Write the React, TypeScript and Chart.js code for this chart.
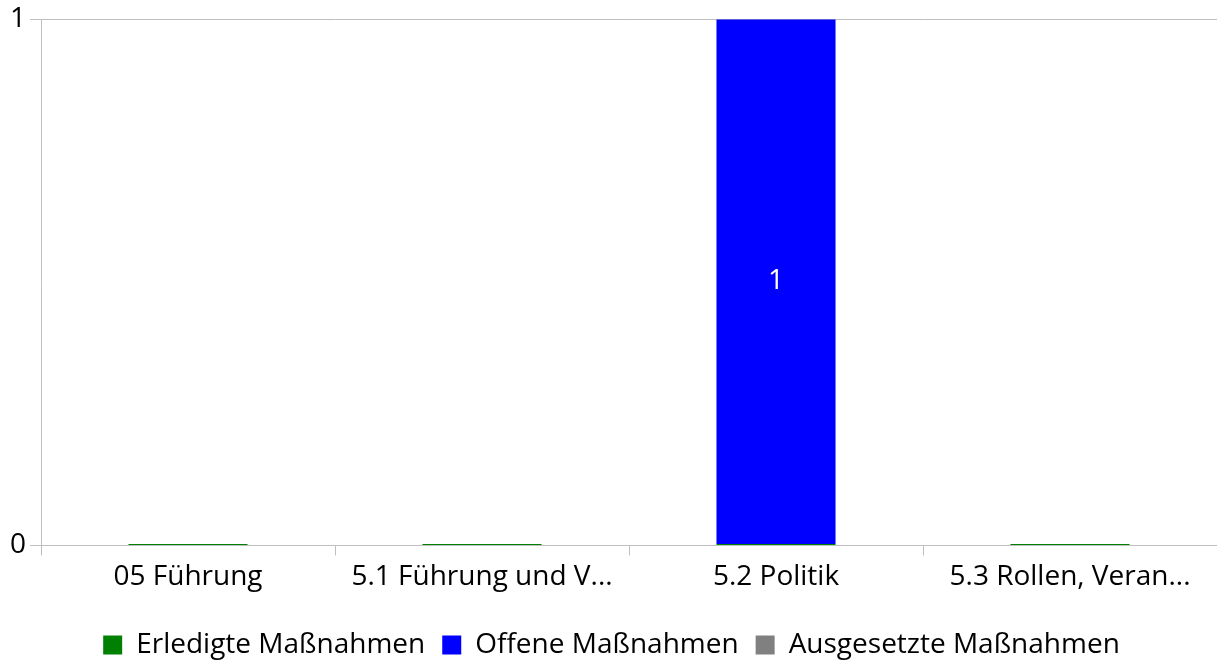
import React, { useEffect, useRef } from "react";
import { Chart, registerables } from "chart.js";

Chart.register(...registerables);

const categories = ["05 Führung", "5.1 Führung und V...", "5.2 Politik", "5.3 Rollen, Veran..."];
const erledigte = [0, 0, 0, 0];
const offene = [0, 0, 1, 0];
const ausgesetzte = [0, 0, 0, 0];
const yTicks = [0, 1];

const FONT = "'Open Sans', 'Noto Sans', sans-serif";
const FS = 28;

const valueLabels = {
  id: "valueLabels",
  afterDatasetsDraw(chart: any) {
    const ctx = chart.ctx;
    chart.data.datasets.forEach((ds: any, i: number) => {
      const meta = chart.getDatasetMeta(i);
      if (meta.hidden) return;
      meta.data.forEach((bar: any, j: number) => {
        const v = ds.data[j];
        if (!v) return;
        const p = bar.getProps(["x", "y", "base"], true);
        ctx.save();
        ctx.fillStyle = "#ffffff";
        ctx.font = `${FS}px ${FONT}`;
        ctx.textAlign = "center";
        ctx.textBaseline = "middle";
        ctx.fillText(String(v), p.x, (p.y + p.base) / 2);
        ctx.restore();
      });
    });
  },
};

export default function App() {
  const ref = useRef<HTMLCanvasElement | null>(null);
  useEffect(() => {
    document.body.style.margin = "0";
    if (!ref.current) return;
    const chart = new Chart(ref.current, {
      type: "bar",
      data: {
        labels: categories,
        datasets: [
          { label: "Erledigte Maßnahmen", data: erledigte, backgroundColor: "#008000", minBarLength: 1.5 },
          { label: "Offene Maßnahmen", data: offene, backgroundColor: "#0000ff" },
          { label: "Ausgesetzte Maßnahmen", data: ausgesetzte, backgroundColor: "#808080" },
        ],
      },
      options: {
        animation: false,
        responsive: false,
        maintainAspectRatio: false,
        layout: { padding: { top: 0, right: 0, left: 6, bottom: -5 } },
        datasets: { bar: { categoryPercentage: 1, barPercentage: 0.405 } },
        plugins: {
          tooltip: { enabled: false },
          legend: {
            position: "bottom",
            labels: {
              color: "#000",
              font: { family: FONT, size: FS },
              boxWidth: 19,
              boxHeight: 19,
              padding: 17,
            },
          },
        },
        scales: {
          x: {
            stacked: true,
            grid: { offset: true, drawOnChartArea: false, color: "#bfbfbf", tickLength: 10 },
            border: { color: "#bfbfbf" },
            ticks: { color: "#000", font: { family: FONT, size: FS }, maxRotation: 0, autoSkip: false, padding: 5 },
            afterFit: (scale: any) => {
              scale.height += 15;
            },
          },
          y: {
            stacked: true,
            min: yTicks[0],
            max: yTicks[yTicks.length - 1],
            grid: { color: "#bfbfbf", tickLength: 11 },
            border: { color: "#bfbfbf" },
            ticks: { stepSize: 1, color: "#000", font: { family: FONT, size: FS, lineHeight: 1.1 }, padding: 4 },
          },
        },
      },
      plugins: [valueLabels],
    });
    return () => chart.destroy();
  }, []);
  return (
    <div style={{ position: "absolute", left: 0, top: 0, width: 1217, height: 664 }}>
      <canvas ref={ref} width={1217} height={664} style={{ width: 1217, height: 664 }} />
    </div>
  );
}
